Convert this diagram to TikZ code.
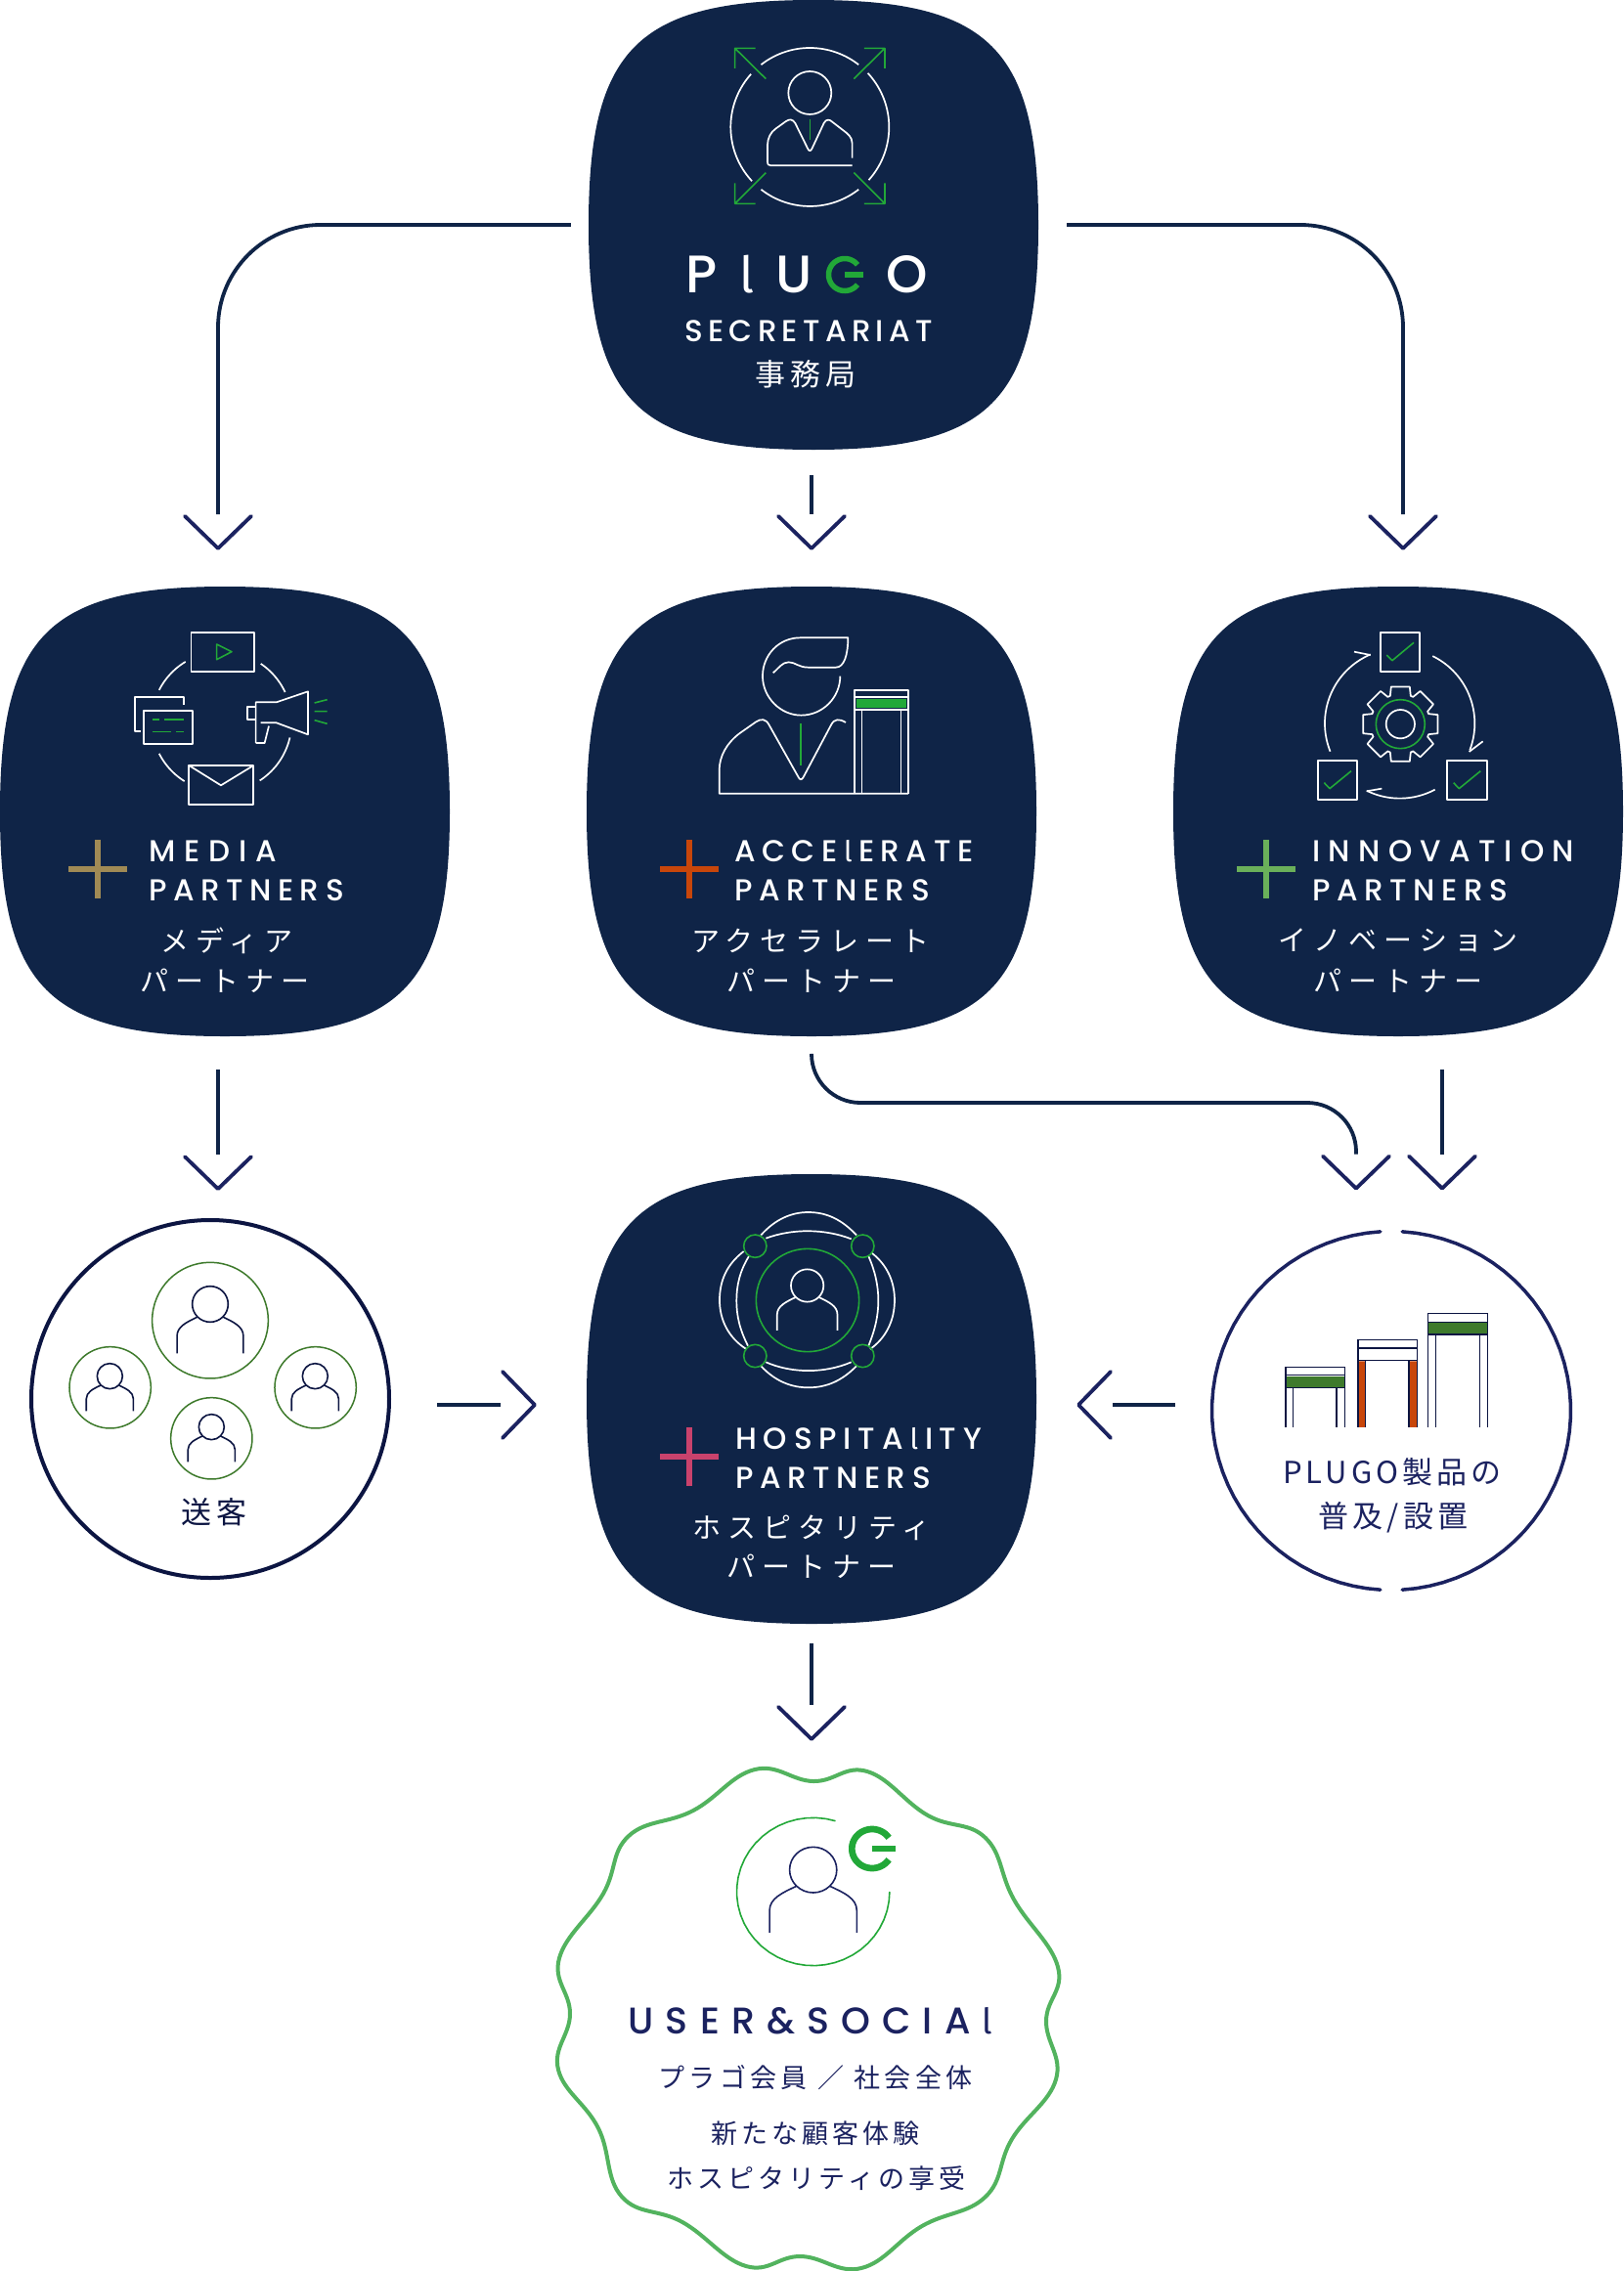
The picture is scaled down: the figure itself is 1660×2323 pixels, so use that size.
\documentclass[tikz,border=0pt]{standalone}
\usepackage{fontspec}
\setmainfont{Poppins}
\newfontfamily\latinfont{Poppins Medium}
\newfontfamily\tailfont[Scale=0.95]{Fira Sans}
\newfontfamily\cjk{Noto Sans CJK JP}
\usetikzlibrary{arrows.meta}
\definecolor{navy}{HTML}{0F2447}
\definecolor{ink}{HTML}{1B2260}
\definecolor{deep}{HTML}{0C1542}
\definecolor{leaf}{HTML}{22A838}
\definecolor{moss}{HTML}{3E7A2C}
\definecolor{rust}{HTML}{C8460A}
\definecolor{sand}{HTML}{A08A55}
\definecolor{fern}{HTML}{6AB05A}
\definecolor{rose}{HTML}{C9426C}
\definecolor{wave}{HTML}{52B35E}
\newcommand{\tracked}[2]{\fontsize{#1}{#1}\selectfont\addfontfeature{LetterSpace=#2}}
\newcommand{\taill}[1]{\kern#1em{\tailfont l}\kern#1em}
\newcommand{\ringarc}[6][]{\draw[#1] plot[domain=#5:#6,samples=40,variable=\t] ({#2+#3*cos(\t)},{#4+#3*sin(\t)});}
\newcommand{\blobnode}[3]{
  \node[area] (#1) at (#2,#3) {};
  \fill[navy,shift={(#2,#3)}] (0,-230) .. controls (-180,-230) and (-230,-180) .. (-230,0)
    .. controls (-230,180) and (-180,230) .. (0,230)
    .. controls (180,230) and (230,180) .. (230,0)
    .. controls (230,-180) and (180,-230) .. (0,-230) -- cycle;
}
\tikzstyle{area} = [minimum size=460pt,inner sep=0pt]
\tikzstyle{link} = [navy,line width=3.8pt,-{. Straight Barb[round,color=ink,length=33pt,width=68pt]}]
\tikzstyle{zoomed} = [x=0.3333pt,y=-0.3333pt]
\tikzstyle{icon} = [white,line width=1.7pt,line join=round]
\tikzstyle{greenline} = [leaf,line width=1.6pt,line join=round]
\tikzstyle{inkline} = [deep,line width=1.6pt,line join=round]
\tikzstyle{cross} = [line width=6pt]
\tikzstyle{head} = [text=white,inner sep=0pt,anchor=west,font=\latinfont\tracked{31}{21}]
\tikzstyle{kana} = [text=white,inner sep=0pt,font=\cjk\tracked{29}{24}]
\tikzset{person/.pic={
  \draw (0,0) circle (1);
  \draw (-1.85,2.75) -- (-1.85,1.78) .. controls (-1.85,1.25) and (-1.3,1) .. (-.72,.72);
  \draw (1.85,2.75) -- (1.85,1.78) .. controls (1.85,1.25) and (1.3,1) .. (.72,.72);
}}
\begin{document}
\begin{tikzpicture}[x=1pt,y=-1pt]
\useasboundingbox (0,0) rectangle (1660,2323);
\fill[white] (0,0) rectangle (1660,2323);
\blobnode{sec}{832}{230}
\blobnode{media}{230}{830}
\blobnode{accel}{830}{830}
\blobnode{innov}{1430}{830}
\blobnode{hosp}{830}{1431}
\node[circle,minimum size=366pt,inner sep=0pt,outer sep=0pt,draw=deep,line width=4pt] (client) at (215,1431) {};
\node[circle,minimum size=367pt,inner sep=0pt,outer sep=0pt] (plugo) at (1423,1443) {};
\node[minimum width=480pt,minimum height=500pt,inner sep=0pt] (user) at (830,2060) {};
\coordinate (turn) at (1100,1128);
\coordinate (clientin) at (223,1248);
% connectors
\draw[link,rounded corners=105pt,shorten <=18pt,shorten >=37pt] (sec.west) -| ([xshift=-7pt]media.north);
\draw[link,rounded corners=105pt,shorten <=29pt,shorten >=37pt] (sec.east) -| ([xshift=5pt]innov.north);
\draw[link,shorten <=26pt,shorten >=37pt] (sec.south -| accel.north) -- (accel.north);
\draw[link,shorten <=34pt,shorten >=30pt] (media.south -| clientin) -- (clientin);
\draw[link,rounded corners=50pt,shorten <=20pt,shorten >=42pt] (accel.south) |- (turn) -| ([xshift=-36pt]plugo.north);
\draw[link,shorten <=34pt,shorten >=42pt] ([xshift=45pt]innov.south) -- ([xshift=52pt]plugo.north);
\draw[link,shorten <=49pt,shorten >=51pt] ([yshift=-6pt]client.east) -- ([yshift=-6pt]hosp.west);
\draw[link,shorten <=38pt,shorten >=41pt] ([yshift=6pt]plugo.west) -- ([yshift=-6pt]hosp.east);
\draw[link,shorten <=20pt,shorten >=29pt] (hosp.south) -- (hosp.south |- user.north);
% secretariat
\begin{scope}[shift={(600,0)},zoomed]
\ringarc[icon]{685}{243}{390}{-128}{-52}
\ringarc[icon]{685}{243}{390}{-43}{42}
\ringarc[icon]{685}{243}{390}{52}{128}
\ringarc[icon]{685}{243}{390}{137}{222}
\draw[icon] (685,285) circle (66);
\draw[icon] (815,485) -- (815,440) .. controls (815,420) and (800,410) .. (790,402) -- (755,375) .. controls (745,365) and (735,365) .. (728,378) -- (692,455) .. controls (688,465) and (682,465) .. (678,455) -- (640,378) .. controls (632,365) and (622,365) .. (612,372) -- (580,395) .. controls (565,405) and (555,425) .. (555,445) -- (555,495) .. controls (555,505) and (558,508) .. (565,508) -- (815,508);
\draw[greenline] (685,365) -- (685,430);
\draw[greenline] (550,242) -- (455,148) (518,148) -- (455,148) -- (455,210);
\draw[greenline] (820,242) -- (915,148) (852,148) -- (915,148) -- (915,210);
\draw[greenline] (550,530) -- (455,625) (518,625) -- (455,625) -- (455,562);
\draw[greenline] (820,530) -- (915,625) (852,625) -- (915,625) -- (915,562);
\end{scope}
\node[text=white,inner sep=0pt,anchor=west,font=\latinfont\tracked{54}{42}] (plu) at (701,281) {P\taill{.42}U};
\ringarc[leaf,line width=5.5pt]{864}{16.5}{281}{38}{322}
\draw[leaf,line width=5.5pt] (864,281) -- (883,281);
\node[text=white,inner sep=0pt,font=\latinfont\tracked{54}{0}] (plo) at (927.5,281) {O};
\node[text=white,inner sep=0pt,font=\latinfont\tracked{31}{17}] (sectext) at (827,339) {SECRETARIAT};
\node[kana,font=\cjk\tracked{31}{15}] (seckana) at (824,383) {事務局};
% media
\begin{scope}[shift={(0,600)},zoomed]
\draw[icon] (587,142) rectangle (780,261);
\draw[greenline] (665,177) -- (711,200) -- (665,224) -- cycle;
\ringarc[icon]{680}{215}{415}{-121}{-153}
\ringarc[icon]{680}{215}{415}{-56}{-25}
\ringarc[icon]{680}{215}{415}{13}{57}
\ringarc[icon]{680}{215}{415}{122}{153}
\draw[icon] (432,443) -- (413,443) -- (413,340) -- (564,340) -- (564,363);
\draw[icon] (442,380) rectangle (592,484);
\draw[greenline] (467,408) -- (490,408) (505,408) -- (565,408) (467,446) -- (525,446) (541,446) -- (565,446);
\draw[icon] (785,480) -- (785,355) -- (848,355) -- (945,322) -- (945,454) -- (848,418) -- (800,418);
\draw[icon] (785,480) -- (812,480) -- (825,428);
\draw[icon] (785,370) -- (760,370) -- (760,407) -- (785,407);
\draw[greenline] (965,357) -- (1004,347) (965,383) -- (1004,383) (965,410) -- (1004,421);
\draw[icon] (580,549) rectangle (778,670);
\draw[icon] (580,549) -- (678,610) -- (778,549);
\end{scope}
\draw[sand,cross] (70,889) -- (130,889) (100,859) -- (100,919);
\node[head,font=\latinfont\tracked{31}{29}] (medtitle) at (152,871) {MEDIA};
\node[head] (medpart) at (152,911) {PARTNERS};
\node[kana] (medkana) at (232,962) {メディア};
\node[kana] (medpkana) at (230,1003) {パートナー};
% accelerate
\begin{scope}[shift={(600,600)},zoomed]
\draw[icon] (778,275) .. controls (778,340) and (725,395) .. (658,395) .. controls (595,395) and (540,340) .. (540,275) .. controls (540,210) and (590,157) .. (655,157) -- (802,157) .. controls (802,210) and (790,248) .. (765,248) -- (680,248) .. controls (650,248) and (640,232) .. (620,232) .. controls (600,232) and (590,250) .. (572,265);
\draw[icon] (795,417) .. controls (775,405) and (760,405) .. (750,425) -- (665,585) .. controls (660,594) and (654,594) .. (650,585) -- (560,425) .. controls (550,405) and (535,405) .. (520,415) -- (470,450) .. controls (430,480) and (407,520) .. (407,565) -- (407,635) -- (987,635);
\draw[greenline] (657,420) -- (657,550);
\fill[leaf] (828,346) rectangle (982,373);
\draw[icon] (823,635) -- (823,318) -- (987,318) -- (987,635);
\draw[icon] (823,340) -- (987,340) (823,378) -- (987,378) (845,378) -- (845,635) (965,378) -- (965,635);
\end{scope}
\draw[rust,cross] (675,889) -- (735,889) (705,859) -- (705,919);
\node[head] (acctitle) at (751,871) {ACCE\taill{.21}ERATE};
\node[head] (accpart) at (751,911) {PARTNERS};
\node[kana] (acckana) at (829,962) {アクセラレート};
\node[kana] (accpkana) at (830,1003) {パートナー};
% innovation
\begin{scope}[shift={(1200,600)},zoomed]
\draw[icon] (637,141) rectangle (757,261) (443,534) rectangle (565,655) (841,534) rectangle (963,655);
\draw[greenline] (655,210) -- (672,227) -- (738,172);
\draw[greenline] (463,602) -- (480,620) -- (546,566);
\draw[greenline] (860,602) -- (877,620) -- (943,566);
\begin{scope}[shift={(697,422)}]
\draw[icon] (-20:92) \foreach \a in {0,45,...,315} {-- (\a-20:92) -- (\a-14:118) -- (\a+14:118) -- (\a+20:92)} -- cycle;
\draw[greenline] (0,0) circle (75);
\draw[icon] (0,0) circle (44);
\end{scope}
\ringarc[icon]{695}{230}{420}{-64}{21}
\draw[icon] (908,507) -- (950,475);
\ringarc[icon]{695}{230}{420}{158}{247}
\draw[icon] (605,210) -- (555,200);
\ringarc[icon]{695}{230}{420}{62}{116}
\draw[icon] (593,628) -- (640,620);
\end{scope}
\draw[fern,cross] (1265,889) -- (1325,889) (1295,859) -- (1295,919);
\node[head,font=\latinfont\tracked{31}{27}] (inntitle) at (1342,871) {INNOVATION};
\node[head] (innpart) at (1342,911) {PARTNERS};
\node[kana] (innkana) at (1430,962) {イノベーション};
\node[kana] (innpkana) at (1430,1003) {パートナー};
% hospitality
\begin{scope}[shift={(620,1210)},zoomed]
\draw[icon] (475,160) .. controls (520,110) and (570,90) .. (620,90) .. controls (680,90) and (725,115) .. (768,160);
\draw[icon] (490,170) .. controls (570,140) and (670,140) .. (752,172);
\draw[icon] (490,550) .. controls (570,585) and (670,585) .. (752,550);
\draw[icon] (475,562) .. controls (520,610) and (570,628) .. (620,628) .. controls (680,628) and (725,605) .. (768,562);
\draw[icon] (422,210) .. controls (370,250) and (348,300) .. (348,360) .. controls (348,420) and (375,475) .. (430,510);
\draw[icon] (438,225) .. controls (410,270) and (400,315) .. (400,360) .. controls (400,410) and (410,450) .. (435,500);
\draw[icon] (805,225) .. controls (825,270) and (835,315) .. (835,360) .. controls (835,410) and (825,450) .. (805,500);
\draw[icon] (815,215) .. controls (860,250) and (885,300) .. (885,360) .. controls (885,420) and (860,475) .. (810,510);
\foreach \x/\y in {457/194,787/194,457/531,787/531} {\draw[greenline] (\x,\y) circle (35);}
\draw[greenline] (618,360) circle (158);
\pic[icon,scale=50] at (617,315) {person};
\end{scope}
\draw[rose,cross] (675,1490) -- (735,1490) (705,1460) -- (705,1520);
\node[head,font=\latinfont\tracked{31}{22}] (hostitle) at (752,1472) {HOSPITA\taill{.22}ITY};
\node[head] (hospart) at (752,1512) {PARTNERS};
\node[kana] (hoskana) at (830,1563) {ホスピタリティ};
\node[kana] (hospkana) at (830,1602) {パートナー};
% client
\begin{scope}[shift={(0,1220)},zoomed]
\draw[moss,line width=1.5pt] (645,392) circle (178) (338,598) circle (125) (968,598) circle (125) (649,754) circle (125);
\pic[inkline,scale=55] at (645,342) {person};
\pic[inkline,scale=39] at (337,563) {person};
\pic[inkline,scale=39] at (967,563) {person};
\pic[inkline,scale=39] at (649,719) {person};
\end{scope}
\node[text=deep,inner sep=0pt,font=\cjk\tracked{31}{14}] (clienttext) at (219,1547) {送客};
% products
\ringarc[ink,line width=3.5pt,line cap=round]{1423}{183.5}{1443}{-86.5}{86.5}
\ringarc[ink,line width=3.5pt,line cap=round]{1423}{183.5}{1443}{93.5}{266.5}
\begin{scope}[shift={(1220,1240)},zoomed,line width=1.5pt]
\draw[deep] (285,660) -- (285,475) -- (467,475) -- (467,660) (285,500) -- (467,500) (285,538) -- (467,538) (307,538) -- (307,660) (441,538) -- (441,660);
\fill[moss] (287,503) rectangle (465,536);
\fill[rust] (509,457) rectangle (528,660) (665,457) rectangle (687,660);
\draw[deep] (507,660) -- (507,392) -- (689,392) -- (689,660) (507,417) -- (689,417) (507,455) -- (689,455) (530,455) -- (530,660) (663,455) -- (663,660);
\draw[deep] (722,660) -- (722,311) -- (904,311) -- (904,660) (722,337) -- (904,337) (722,375) -- (904,375) (746,375) -- (746,660) (880,375) -- (880,660);
\fill[moss] (724,340) rectangle (902,373);
\end{scope}
\node[text=ink,inner sep=0pt,font=\cjk\tracked{31}{13}] (plugotext) at (1424,1506) {PLUGO製品の};
\node[text=ink,inner sep=0pt,font=\cjk\tracked{31}{13}] (plugokana) at (1425,1552) {普及/設置};
% user
\draw[wave,line width=4pt] plot[smooth cycle,tension=.7] coordinates {(772,1810) (832,1822) (887,1812) (949,1857) (1008,1880) (1037,1943) (1082,2012) (1070,2067) (1080,2127) (1035,2188) (1008,2247) (943,2277) (881,2320) (819,2308) (763,2318) (698,2273) (636,2247) (612,2177) (571,2117) (583,2060) (572,2003) (617,1937) (643,1878) (709,1852)};
\begin{scope}[shift={(560.3,1800)},x=0.3444pt,y=-0.3333pt]
\ringarc[greenline]{788}{227}{405}{0}{287}
\pic[ink,line width=1.6pt,scale=70] at (788,338) {person};
\ringarc[leaf,line width=6.7pt]{963}{60}{273}{34}{326}
\draw[leaf,line width=6.7pt] (963,273) -- (1032,273);
\end{scope}
\node[text=ink,inner sep=0pt,font=\latinfont\tracked{38}{32}] (usertext) at (835,2067) {USER\&SOCIA\taill{.32}};
\node[text=ink,inner sep=0pt,font=\cjk\tracked{27}{16}] (usermem) at (834,2125) {プラゴ会員 ／ 社会全体};
\node[text=ink,inner sep=0pt,font=\cjk\tracked{27}{15}] (usernew) at (834,2182) {新たな顧客体験};
\node[text=ink,inner sep=0pt,font=\cjk\tracked{27}{15}] (userjoy) at (835,2228) {ホスピタリティの享受};
\end{tikzpicture}
\end{document}
